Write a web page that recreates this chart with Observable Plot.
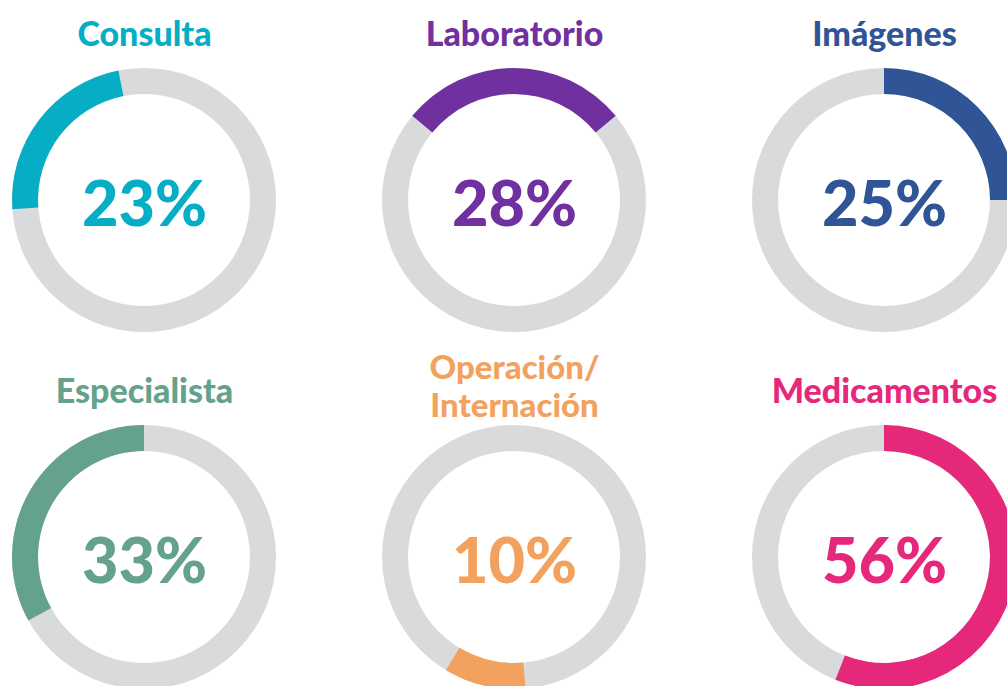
<!DOCTYPE html>
<html>
<head>
<meta charset="utf-8">
<script src="https://cdn.jsdelivr.net/npm/d3@7"></script>
<script src="https://cdn.jsdelivr.net/npm/@observablehq/plot@0.6"></script>
<style>
  html, body { margin: 0; padding: 0; background: #ffffff; }
  #chart svg { display: block; }
</style>
</head>
<body>
<div id="chart"></div>
<script>
// ---- data ----
const categories = ["Consulta", "Laboratorio", "Imágenes", "Especialista", "Operación/\nInternación", "Medicamentos"];
const values = [23, 28, 25, 33, 10, 56];
const percentLabels = values.map(v => v + "%");

// ---- styles / layout ----
const colors = ["#05adc5", "#7030a0", "#2f5597", "#64a28b", "#f3a15f", "#e6287b"];
const arcStartDeg = [-94, -50.4, 0, -118.8, 175, 0]; // where each coloured arc begins (clockwise from 12 o'clock)
const ringGray = "#d9dadb";
const outerR = 132, innerR = 106;
const font = "Lato, 'Open Sans', sans-serif";

const data = categories.map((name, i) => ({
  name,
  value: values[i],
  label: percentLabels[i],
  col: i % 3,
  row: Math.floor(i / 3),
  start: arcStartDeg[i],
  lines: name.split("\n").length
}));

const pctToAngle = Plot.scale({x: {type: "linear", domain: [0, 100], range: [0, 2 * Math.PI]}});
const degToAngle = Plot.scale({x: {type: "linear", domain: [0, 360], range: [0, 2 * Math.PI]}});

function rings(index, scales) {
  const g = d3.create("svg:g");
  const arc = d3.arc().innerRadius(innerR).outerRadius(outerR);
  for (const d of data) {
    const cx = scales.x(d.col), cy = scales.y(d.row);
    const gg = g.append("g").attr("transform", `translate(${cx},${cy})`);
    gg.append("path")
      .attr("d", arc({startAngle: 0, endAngle: 2 * Math.PI}))
      .attr("fill", ringGray);
    const a0 = degToAngle.apply(d.start);
    gg.append("path")
      .attr("d", arc({startAngle: a0, endAngle: a0 + pctToAngle.apply(d.value)}))
      .attr("fill", scales.color(d.name));
  }
  return g.node();
}

const chart = Plot.plot({
  width: 1007,
  height: 686,
  margin: 0,
  style: {background: "#ffffff", fontFamily: font},
  x: {type: "point", domain: [0, 1, 2], range: [143.5, 884], padding: 0, axis: null},
  y: {type: "point", domain: [0, 1], range: [200, 557], padding: 0, axis: null},
  color: {domain: categories, range: colors},
  marks: [
    rings,
    Plot.text(data, {
      x: "col", y: "row", text: "label", fill: "name",
      fontSize: 63, fontWeight: 900, fontFamily: font,
      lineAnchor: "middle", dy: 5
    }),
    Plot.text(data.filter(d => d.lines === 1), {
      x: "col", y: "row", text: "name", fill: "name",
      fontSize: 34, fontWeight: 900, fontFamily: font,
      lineAnchor: "bottom", dy: -155
    }),
    Plot.text(data.filter(d => d.lines > 1), {
      x: "col", y: "row", text: "name", fill: "name",
      fontSize: 33, fontWeight: 900, fontFamily: font,
      lineAnchor: "bottom", lineHeight: 1.15, dy: -141
    })
  ]
});

document.getElementById("chart").appendChild(chart);
</script>
</body>
</html>
